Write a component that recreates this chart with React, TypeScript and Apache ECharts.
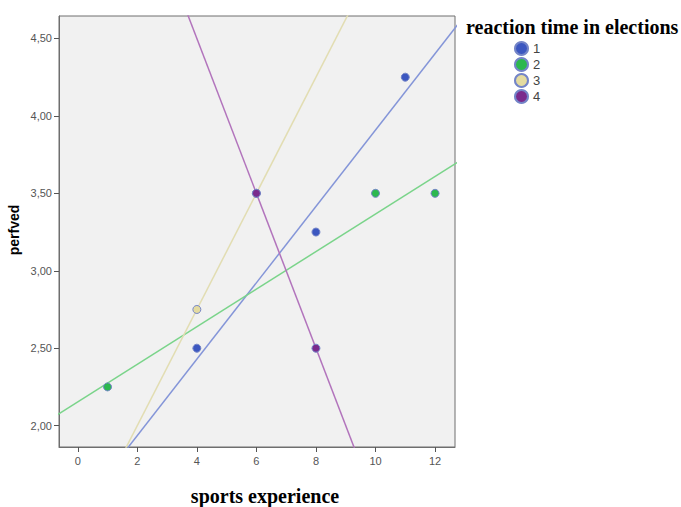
import React, { useEffect, useRef } from "react";
import * as echarts from "echarts";

const groupNames = ["1", "2", "3", "4"];
const group1 = [[4, 2.5], [8, 3.25], [11, 4.25]];
const group2 = [[1, 2.25], [10, 3.5], [12, 3.5]];
const group3 = [[4, 2.75], [6, 3.5]];
const group4 = [[6, 3.5], [8, 2.5]];
const groups = [group1, group2, group3, group4];

const xTicks = [0, 2, 4, 6, 8, 10, 12];
const yTicks = [2.0, 2.5, 3.0, 3.5, 4.0, 4.5];

const X_MIN = -0.63;
const X_MAX = 12.67;
const Y_MIN = 1.862;
const Y_MAX = 4.645;

const dotColors = ["#3c57c0", "#2cb84e", "#e4dba0", "#7a2a8c"];
const lineColors = ["#8495d8", "#7ad48a", "#e2ddb2", "#b274bc"];

function fitLine(pts: number[][]) {
  const n = pts.length;
  const mx = pts.reduce((s, p) => s + p[0], 0) / n;
  const my = pts.reduce((s, p) => s + p[1], 0) / n;
  let sxy = 0;
  let sxx = 0;
  pts.forEach((p) => {
    sxy += (p[0] - mx) * (p[1] - my);
    sxx += (p[0] - mx) * (p[0] - mx);
  });
  const b = sxy / sxx;
  const a = my - b * mx;
  return [
    [X_MIN - 1, a + b * (X_MIN - 1)],
    [X_MAX + 1, a + b * (X_MAX + 1)],
  ];
}

export default function App() {
  const ref = useRef<HTMLDivElement>(null);
  useEffect(() => {
    if (!ref.current) return;
    const chart = echarts.init(ref.current, null, { renderer: "svg" });
    const lineSeries = groups.map((g, i) => ({
      name: "fit" + groupNames[i],
      type: "line",
      data: fitLine(g),
      clip: true,
      symbol: "none",
      lineStyle: { color: lineColors[i], width: 1.5 },
      silent: true,
      z: 2,
    }));
    const scatterSeries = groups.map((g, i) => ({
      name: groupNames[i],
      type: "scatter",
      data: g,
      symbolSize: 8,
      itemStyle: {
        color: dotColors[i],
        borderColor: "#7485c8",
        borderWidth: 1,
        opacity: 1,
      },
      z: 3,
    }));
    chart.setOption({
      animation: false,
      backgroundColor: "#ffffff",
      grid: {
        left: 59,
        top: 16,
        width: 396,
        height: 431,
        show: true,
        backgroundColor: "#f1f1f1",
        borderColor: "#6e6e6e",
        borderWidth: 1,
      },
      xAxis: {
        type: "value",
        min: X_MIN,
        max: X_MAX,
        splitLine: { show: false },
        axisLine: { show: true, onZero: false, lineStyle: { color: "#6e6e6e", width: 1 } },
        axisTick: {
          show: true,
          length: 5,
          customValues: xTicks,
          lineStyle: { color: "#555" },
        },
        axisLabel: {
          customValues: xTicks,
          color: "#555",
          fontSize: 11,
          fontFamily: "Liberation Sans",
          margin: 8,
        },
      },
      yAxis: {
        type: "value",
        min: Y_MIN,
        max: Y_MAX,
        splitLine: { show: false },
        axisLine: { show: true, onZero: false, lineStyle: { color: "#6e6e6e", width: 1 } },
        axisTick: {
          show: true,
          length: 5,
          customValues: yTicks,
          lineStyle: { color: "#555" },
        },
        axisLabel: {
          customValues: yTicks,
          color: "#555",
          fontSize: 11,
          fontFamily: "Liberation Sans",
          margin: 7,
          formatter: (v: number) => v.toFixed(2).replace(".", ","),
        },
      },
      legend: {
        data: groupNames,
        orient: "vertical",
        left: 509,
        top: 36,
        itemGap: 1,
        itemWidth: 13,
        itemHeight: 13,
        icon: "circle",
        textStyle: { color: "#444", fontSize: 13, fontFamily: "Liberation Sans" },
      },
      graphic: [
        {
          type: "text",
          left: 466,
          top: 17,
          style: {
            text: "reaction time in elections",
            font: "bold 20px 'Liberation Serif'",
            fill: "#000",
          },
        },
        {
          type: "text",
          x: 265,
          y: 496,
          style: {
            text: "sports experience",
            font: "bold 20px 'Liberation Serif'",
            fill: "#000",
            align: "center",
            verticalAlign: "middle",
          },
        },
        {
          type: "text",
          x: 14,
          y: 230,
          rotation: Math.PI / 2,
          style: {
            text: "perfved",
            font: "bold 14px 'Liberation Sans'",
            fill: "#000",
            align: "center",
            verticalAlign: "middle",
          },
        },
      ],
      series: [...lineSeries, ...scatterSeries],
    });
    return () => chart.dispose();
  }, []);
  return (
    <div
      ref={ref}
      style={{ position: "fixed", left: 0, top: 0, width: 681, height: 507 }}
    />
  );
}
